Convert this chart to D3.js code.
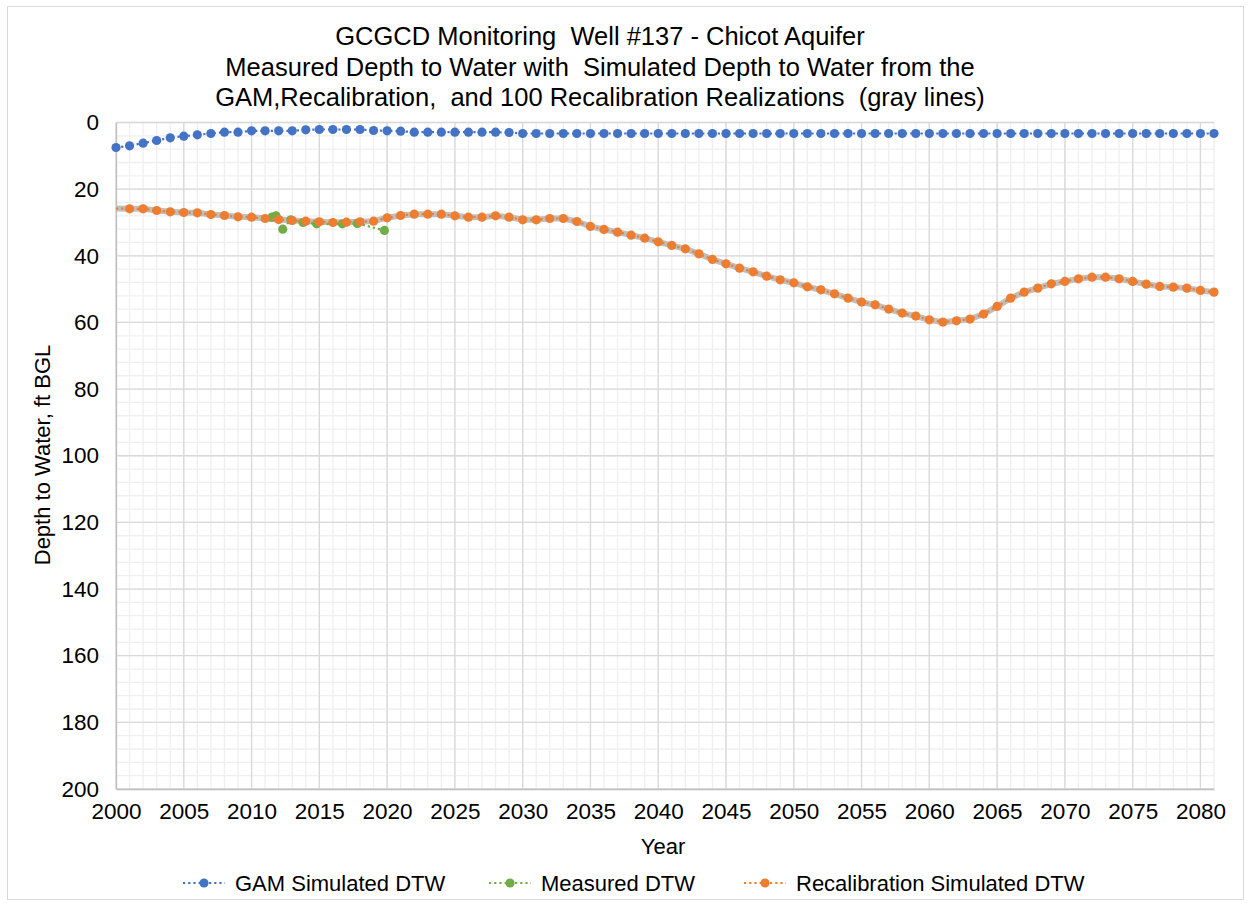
<!DOCTYPE html>
<html>
<head>
<meta charset="utf-8">
<script src="https://cdn.jsdelivr.net/npm/d3@7"></script>
<style>
  body { margin: 0; background: #fff; }
  svg { font-family: "Liberation Sans", Arial, sans-serif; }
</style>
</head>
<body>
<svg id="chart" width="1251" height="907"></svg>
<script>
// years for the simulated series (one value per year)
var years = d3.range(2000, 2082)

var gamDTW = [7.5, 7.0, 6.2, 5.4, 4.6, 4.1, 3.7, 3.3, 2.9, 2.9,
              2.5, 2.5, 2.5, 2.5, 2.2, 2.1, 2.1, 2.1, 2.1, 2.4,
              2.5, 2.6, 2.9, 2.9, 2.9, 2.9, 2.9, 2.9, 2.9, 3.0,
              3.3, 3.3, 3.3, 3.3, 3.3, 3.3, 3.3, 3.3, 3.3, 3.3,
              3.3, 3.3, 3.3, 3.3, 3.3, 3.3, 3.3, 3.3, 3.3, 3.3,
              3.3, 3.3, 3.3, 3.3, 3.3, 3.3, 3.3, 3.3, 3.3, 3.3,
              3.3, 3.3, 3.3, 3.3, 3.3, 3.3, 3.3, 3.3, 3.3, 3.3,
              3.3, 3.3, 3.3, 3.3, 3.3, 3.3, 3.3, 3.3, 3.3, 3.3,
              3.3, 3.3]

var recalDTW = [25.8, 25.9, 25.9, 26.4, 26.8, 27.0, 27.1, 27.6, 27.9, 28.3,
                28.4, 28.8, 29.1, 29.4, 29.6, 29.8, 30.0, 29.9, 29.8, 29.6,
                28.6, 27.9, 27.5, 27.5, 27.5, 28.0, 28.4, 28.4, 28.0, 28.4,
                29.2, 29.2, 28.8, 28.8, 29.7, 31.2, 32.1, 32.9, 33.8, 34.7,
                35.8, 36.9, 37.9, 39.4, 41.1, 42.4, 43.7, 44.8, 46.1, 47.2,
                48.1, 49.3, 50.2, 51.4, 52.7, 53.9, 54.7, 56.0, 57.2, 58.1,
                59.2, 59.9, 59.5, 59.0, 57.5, 55.2, 52.7, 50.9, 49.7, 48.4,
                47.7, 46.9, 46.4, 46.4, 46.9, 47.7, 48.5, 49.2, 49.4, 49.7,
                50.4, 50.9]

// measured depth to water (decimal year, ft)
var measYears = [2011.5, 2011.8, 2012.3, 2012.9, 2013.8, 2014.8, 2016.7, 2017.8, 2019.8]
var measDTW = [28.4, 28.0, 32.0, 29.2, 30.0, 30.4, 30.4, 30.3, 32.4]

var xTicks = d3.range(2000, 2081, 5)
var yTicks = d3.range(0, 201, 20)

var titleLines = [
    'GCGCD Monitoring  Well #137 - Chicot Aquifer',
    'Measured Depth to Water with  Simulated Depth to Water from the',
    'GAM,Recalibration,  and 100 Recalibration Realizations  (gray lines)'
]

var legendItems = [
    { name: 'GAM Simulated DTW', color: '#4472C4', x: 183 },
    { name: 'Measured DTW', color: '#70AD47', x: 489 },
    { name: 'Recalibration Simulated DTW', color: '#ED7D31', x: 744 }
]

var svg = d3.select('#chart')

var pLeft = 116, pRight = 1214, pTop = 122.5, pBottom = 789

var x = d3.scaleLinear().domain([2000, 2081]).range([pLeft, pRight])
var y = d3.scaleLinear().domain([0, 200]).range([pTop, pBottom])

// chart border
svg.append('rect')
    .attr('x', 7.5).attr('y', 6.5)
    .attr('width', 1236).attr('height', 893)
    .attr('fill', '#fff')
    .attr('stroke', '#d9d9d9')

// title
svg.append('g').selectAll('text')
    .data(titleLines)
    .enter()
    .append('text')
        .attr('x', 600)
        .attr('y', function(d, i) { return 45 + i * 30.5 })
        .attr('text-anchor', 'middle')
        .style('font-size', '25.5px')
        .style('white-space', 'pre')
        .attr('fill', '#000')
        .text(function(d) { return d })

// minor grid
var g = svg.append('g')
g.selectAll('.vminor')
    .data(d3.range(2000, 2082))
    .enter().append('line')
        .attr('x1', function(d) { return x(d) }).attr('x2', function(d) { return x(d) })
        .attr('y1', pTop).attr('y2', pBottom)
        .attr('stroke', '#efefef').attr('stroke-width', 1.3)
g.selectAll('.hminor')
    .data(d3.range(0, 201, 4))
    .enter().append('line')
        .attr('x1', pLeft).attr('x2', pRight)
        .attr('y1', function(d) { return y(d) }).attr('y2', function(d) { return y(d) })
        .attr('stroke', '#efefef').attr('stroke-width', 1.3)

// major grid
g.selectAll('.vmajor')
    .data(d3.range(2000, 2082, 5))
    .enter().append('line')
        .attr('x1', function(d) { return x(d) }).attr('x2', function(d) { return x(d) })
        .attr('y1', pTop).attr('y2', pBottom)
        .attr('stroke', '#d9d9d9').attr('stroke-width', 1.3)
g.selectAll('.hmajor')
    .data(yTicks)
    .enter().append('line')
        .attr('x1', pLeft).attr('x2', pRight)
        .attr('y1', function(d) { return y(d) }).attr('y2', function(d) { return y(d) })
        .attr('stroke', '#d9d9d9').attr('stroke-width', 1.3)

// axes
var xAxis = svg.append('g')
    .attr('transform', 'translate(0,' + pBottom + ')')
    .call(d3.axisBottom(x).tickValues(xTicks).tickFormat(d3.format('d')).tickSize(0).tickPadding(14))
xAxis.select('.domain').attr('stroke', '#bfbfbf').attr('stroke-width', 1.3)
xAxis.selectAll('text').style('font-size', '22.5px').attr('fill', '#000').style('font-family', '"Liberation Sans", Arial, sans-serif')

var yAxis = svg.append('g')
    .attr('transform', 'translate(' + pLeft + ',0)')
    .call(d3.axisLeft(y).tickValues(yTicks).tickSize(0).tickPadding(17))
yAxis.select('.domain').attr('stroke', '#bfbfbf').attr('stroke-width', 1.3)
yAxis.selectAll('text').style('font-size', '22.5px').attr('fill', '#000').style('font-family', '"Liberation Sans", Arial, sans-serif')

svg.append('text')
    .attr('x', 663).attr('y', 854)
    .attr('text-anchor', 'middle')
    .style('font-size', '22px')
    .text('Year')

svg.append('text')
    .attr('transform', 'translate(50,455) rotate(-90)')
    .attr('text-anchor', 'middle')
    .style('font-size', '22px')
    .text('Depth to Water, ft BGL')

var line = d3.line()
    .x(function(d) { return x(d[0]) })
    .y(function(d) { return y(d[1]) })

var gamData = years.map(function(yr, i) { return [yr, gamDTW[i]] })
var recalData = years.map(function(yr, i) { return [yr, recalDTW[i]] })
var measData = measYears.map(function(yr, i) { return [yr, measDTW[i]] })

var plot = svg.append('g')

// realization band (gray lines)
plot.append('path')
    .datum(recalData)
    .attr('d', line)
    .attr('fill', 'none')
    .attr('stroke', '#bfbfbf')
    .attr('stroke-width', 6)

function drawSeries(data, color, skipFirst) {
    plot.append('path')
        .datum(data)
        .attr('d', line)
        .attr('fill', 'none')
        .attr('stroke', color)
        .attr('stroke-width', 2.2)
        .attr('stroke-dasharray', '2.2,3')
    plot.append('g').selectAll('circle')
        .data(skipFirst ? data.slice(1) : data)
        .enter()
        .append('circle')
            .attr('cx', function(d) { return x(d[0]) })
            .attr('cy', function(d) { return y(d[1]) })
            .attr('r', 4.6)
            .attr('fill', color)
}

drawSeries(measData, '#70AD47', false)
drawSeries(gamData, '#4472C4', false)
drawSeries(recalData, '#ED7D31', true)

// legend
var leg = svg.append('g').selectAll('g')
    .data(legendItems)
    .enter()
    .append('g')
        .attr('transform', function(d) { return 'translate(' + d.x + ',883)' })
leg.append('line')
    .attr('x1', 0).attr('x2', 42)
    .attr('stroke', function(d) { return d.color })
    .attr('stroke-width', 2.2)
    .attr('stroke-dasharray', '2.2,3')
leg.append('circle')
    .attr('cx', 21).attr('r', 4.6)
    .attr('fill', function(d) { return d.color })
leg.append('text')
    .attr('x', 52).attr('y', 7.5)
    .style('font-size', '22px')
    .text(function(d) { return d.name })
</script>
</body>
</html>
